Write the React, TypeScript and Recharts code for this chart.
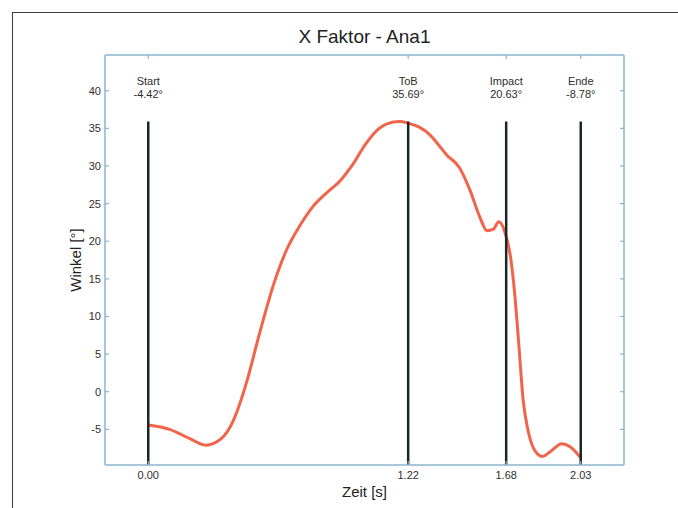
import React from 'react';
import {
  LineChart,
  Line,
  XAxis,
  YAxis,
  ReferenceLine,
  ReferenceDot,
} from 'recharts';

// Time (s) and X-Faktor angle (deg)
const times = [
  0, 0.1, 0.2, 0.27, 0.34, 0.4, 0.46, 0.52, 0.59, 0.65, 0.71, 0.77, 0.84, 0.9,
  0.96, 1.02, 1.08, 1.12, 1.18, 1.22, 1.27, 1.32, 1.36, 1.4, 1.46, 1.51, 1.555,
  1.59, 1.62, 1.645, 1.68, 1.7, 1.72, 1.74, 1.76, 1.78, 1.81, 1.85, 1.89, 1.94,
  1.98, 2.03,
];
const angles = [
  -4.42, -5.0, -6.3, -7.1, -6.3, -3.8, 1.1, 7.5, 14.4, 18.9, 22.0, 24.5, 26.5,
  28.0, 30.2, 32.9, 34.9, 35.6, 35.9, 35.69, 35.2, 34.2, 32.9, 31.5, 29.8, 26.8,
  23.3, 21.4, 21.6, 22.6, 20.63, 18.0, 13.0, 6.0, -1.2, -4.8, -7.6, -8.6, -7.9,
  -6.9, -7.3, -8.78,
];

// Swing events
const eventNames = ['Start', 'ToB', 'Impact', 'Ende'];
const eventTimes = [0, 1.22, 1.68, 2.03];
const eventValues = ['-4.42°', '35.69°', '20.63°', '-8.78°'];

const yTicks = [-5, 0, 5, 10, 15, 20, 25, 30, 35, 40];
const xDomain = [-0.203, 2.233];
const yDomain = [-9.74, 44.75];
const eventLabelY = 40.36;

const AXIS = '#8ab6cb';
const TEXT = '#2e2e2e';
const CURVE = '#f2644a';
const FONT = '"Liberation Sans", Arial, sans-serif';

const chartData = times.map((t, i) => ({ t, v: angles[i] }));
const lineTop = Math.max(...angles);

const BottomTick = ({ x, y, payload }: any) => (
  <g>
    <line x1={x} x2={x} y1={y} y2={y - 4} stroke={AXIS} strokeWidth={1.2} />
    <text x={x} y={y + 14} textAnchor="middle" fontSize={11} fill={TEXT} fontFamily={FONT}>
      {payload.value.toFixed(2)}
    </text>
  </g>
);

const TopTick = ({ x, y }: any) => (
  <line x1={x} x2={x} y1={y} y2={y + 4} stroke={AXIS} strokeWidth={1.2} />
);

const LeftTick = ({ x, y, payload }: any) => (
  <g>
    <line x1={x} x2={x + 4} y1={y} y2={y} stroke={AXIS} strokeWidth={1.2} />
    <text x={x - 4} y={y + 4} textAnchor="end" fontSize={11} fill={TEXT} fontFamily={FONT}>
      {payload.value}
    </text>
  </g>
);

const RightTick = ({ x, y }: any) => (
  <line x1={x} x2={x - 4} y1={y} y2={y} stroke={AXIS} strokeWidth={1.2} />
);

const eventLabel = (name: string, value: string) => (props: any) => {
  const { cx, cy } = props;
  return (
    <g>
      <text x={cx} y={cy - 3} textAnchor="middle" fontSize={11} fill={TEXT} fontFamily={FONT}>
        {name}
      </text>
      <text x={cx} y={cy + 10} textAnchor="middle" fontSize={11} fill={TEXT} fontFamily={FONT}>
        {value}
      </text>
    </g>
  );
};

export default function App() {
  return (
    <div
      style={{
        position: 'absolute',
        left: 0,
        top: 0,
        width: 678,
        height: 508,
        background: '#fff',
        overflow: 'hidden',
        fontFamily: FONT,
      }}
    >
      {/* outer frame, only left and top edge visible */}
      <div
        style={{
          position: 'absolute',
          left: 12,
          top: 12,
          width: 800,
          height: 700,
          borderLeft: '1.5px solid #3c3c3c',
          borderTop: '1.5px solid #3c3c3c',
        }}
      />
      <div
        style={{
          position: 'absolute',
          left: 105,
          width: 519,
          top: 26,
          textAlign: 'center',
          fontSize: 19,
          color: '#222',
        }}
      >
        X Faktor - Ana1
      </div>
      <div style={{ position: 'absolute', left: 0, top: 0 }}>
        <LineChart
          width={678}
          height={508}
          data={chartData}
          margin={{ top: 50, right: 44, bottom: 13, left: 65 }}
        >
          <XAxis
            dataKey="t"
            type="number"
            domain={xDomain}
            ticks={eventTimes}
            allowDataOverflow
            axisLine={{ stroke: AXIS, strokeWidth: 1.5 }}
            tickLine={false}
            tickSize={0}
            tickMargin={0}
            tick={<BottomTick />}
            height={30}
            label={{
              value: 'Zeit [s]',
              position: 'insideBottom',
              offset: -2,
              fill: '#222',
              fontSize: 15,
              fontFamily: FONT,
            }}
          />
          <XAxis
            xAxisId="top"
            orientation="top"
            dataKey="t"
            type="number"
            domain={xDomain}
            ticks={eventTimes}
            allowDataOverflow
            axisLine={{ stroke: AXIS, strokeWidth: 1.5 }}
            tickLine={false}
            tickSize={0}
            tickMargin={0}
            tick={<TopTick />}
            height={5}
          />
          <YAxis
            type="number"
            domain={yDomain}
            ticks={yTicks}
            allowDataOverflow
            axisLine={{ stroke: AXIS, strokeWidth: 1.5 }}
            tickLine={false}
            tickSize={0}
            tickMargin={0}
            tick={<LeftTick />}
            width={40}
            label={{
              value: 'Winkel [°]',
              angle: -90,
              position: 'insideLeft',
              offset: 11,
              style: { textAnchor: 'middle' },
              fill: '#222',
              fontSize: 15,
              fontFamily: FONT,
            }}
          />
          <YAxis
            yAxisId="right"
            orientation="right"
            type="number"
            domain={yDomain}
            ticks={yTicks}
            allowDataOverflow
            axisLine={{ stroke: AXIS, strokeWidth: 1.5 }}
            tickLine={false}
            tickSize={0}
            tickMargin={0}
            tick={<RightTick />}
            width={10}
          />
          <Line
            dataKey="v"
            type="monotone"
            stroke={CURVE}
            strokeWidth={3}
            dot={false}
            isAnimationActive={false}
          />
          {eventTimes.map((t, i) => (
            <ReferenceLine
              key={eventNames[i]}
              segment={[
                { x: t, y: yDomain[0] },
                { x: t, y: lineTop },
              ]}
              stroke="#1b2626"
              strokeWidth={2.5}
            />
          ))}
          {eventTimes.map((t, i) => (
            <ReferenceDot
              key={'lbl' + eventNames[i]}
              x={t}
              y={eventLabelY}
              r={0}
              shape={eventLabel(eventNames[i], eventValues[i])}
            />
          ))}
        </LineChart>
      </div>
    </div>
  );
}
